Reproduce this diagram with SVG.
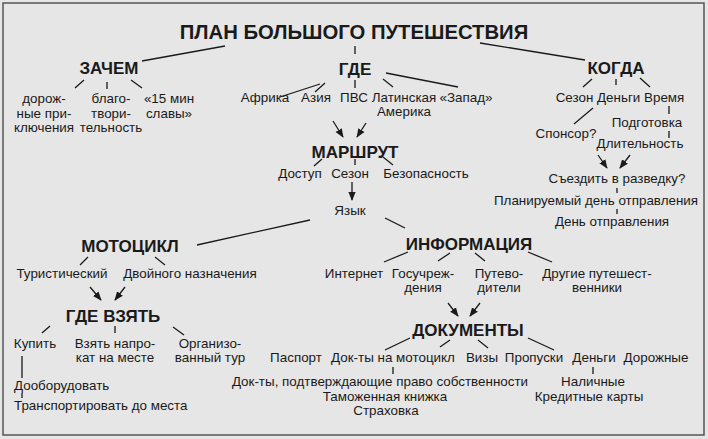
<svg xmlns="http://www.w3.org/2000/svg" width="708" height="439" viewBox="0 0 708 439">
<style>
text{font-family:"Liberation Sans",Arial,sans-serif;fill:#1a1a1a;text-anchor:middle;font-size:13.4px}
.h{font-weight:bold;font-size:17px}
.t{font-weight:bold;font-size:20.3px}
.l line{stroke:#1a1a1a;stroke-width:1.3}
.a line{stroke:#1a1a1a;stroke-width:1.3;marker-end:url(#ar)}
</style>
<defs><marker id="ar" viewBox="0 0 10 10" refX="9" refY="5" markerWidth="7" markerHeight="7" orient="auto"><path d="M0,1 L10,5 L0,9 Z" fill="#1a1a1a"/></marker></defs>
<rect x="0" y="0" width="708" height="439" fill="#e6e6e6"/>
<rect x="3" y="3" width="701" height="432" fill="none" stroke="#555" stroke-width="1.5"/>
<g id="connectors">
<g class="l">
<line x1="225" y1="46" x2="142" y2="61"/><line x1="355" y1="46" x2="355" y2="54"/><line x1="480" y1="43" x2="585" y2="60"/>
<line x1="75" y1="88" x2="84" y2="80"/><line x1="107" y1="82" x2="107" y2="89"/><line x1="131" y1="80" x2="142" y2="88"/>
<line x1="320" y1="84" x2="280" y2="97"/><line x1="325" y1="83" x2="315" y2="92"/><line x1="355" y1="80" x2="355" y2="88"/><line x1="383" y1="79" x2="393" y2="87"/><line x1="386" y1="73" x2="458" y2="87"/>
<line x1="322" y1="159" x2="314" y2="166"/><line x1="355" y1="159" x2="355" y2="165"/><line x1="383" y1="157" x2="393" y2="165"/>
<line x1="310" y1="220" x2="197" y2="245"/><line x1="385" y1="218" x2="405" y2="228"/>
<line x1="592" y1="79" x2="583" y2="87"/><line x1="616" y1="79" x2="616" y2="85"/><line x1="640" y1="78" x2="650" y2="87"/>
<line x1="593" y1="108" x2="574" y2="124"/><line x1="669" y1="106" x2="669" y2="114"/><line x1="669" y1="131" x2="669" y2="138"/>
<line x1="617" y1="188" x2="617" y2="193"/><line x1="617" y1="209" x2="617" y2="214"/>
<line x1="88" y1="257" x2="80" y2="265"/><line x1="155" y1="257" x2="165" y2="265"/>
<line x1="50" y1="326" x2="42" y2="333"/><line x1="115" y1="326" x2="115" y2="333"/><line x1="173" y1="327" x2="184" y2="335"/>
<line x1="22" y1="356" x2="22" y2="378"/><line x1="22" y1="393" x2="22" y2="398"/>
<line x1="408" y1="252" x2="384" y2="262"/><line x1="450" y1="253" x2="438" y2="261"/><line x1="475" y1="253" x2="485" y2="261"/><line x1="528" y1="252" x2="552" y2="262"/>
<line x1="410" y1="338" x2="385" y2="350"/><line x1="450" y1="340" x2="440" y2="347"/><line x1="478" y1="340" x2="488" y2="348"/><line x1="528" y1="338" x2="554" y2="350"/>
<line x1="393" y1="367" x2="393" y2="374"/><line x1="593" y1="367" x2="593" y2="374"/>
</g>
<g class="a">
<line x1="333" y1="121" x2="343" y2="137"/><line x1="366" y1="123" x2="357" y2="137"/>
<line x1="352" y1="182" x2="352" y2="200"/>
<line x1="598" y1="155" x2="607" y2="168"/><line x1="630" y1="155" x2="620" y2="168"/>
<line x1="90" y1="287" x2="101" y2="300"/><line x1="125" y1="287" x2="115" y2="300"/>
<line x1="448" y1="303" x2="458" y2="316"/><line x1="480" y1="303" x2="470" y2="316"/>
</g>
</g>
<g id="title"><text class="t" x="354" y="39">ПЛАН БОЛЬШОГО ПУТЕШЕСТВИЯ</text></g>
<g id="zachem"><text class="h" x="109" y="74">ЗАЧЕМ</text>
<text x="44" y="103">дорож-</text><text x="44" y="118">ные при-</text><text x="44" y="132">ключения</text>
<text x="111" y="103">благо-</text><text x="111" y="118">твори-</text><text x="111" y="132">тельность</text>
<text x="169" y="103">«15 мин</text><text x="169" y="118">славы»</text></g>
<g id="gde"><text class="h" x="355" y="75">ГДЕ</text>
<text x="265" y="102">Африка</text><text x="316" y="102">Азия</text><text x="354" y="102">ПВС</text><text x="404" y="102">Латинская</text><text x="466" y="102">«Запад»</text><text x="404" y="116">Америка</text></g>
<g id="marshrut"><text class="h" x="355" y="158">МАРШРУТ</text>
<text x="300" y="178">Доступ</text><text x="350" y="178">Сезон</text><text x="426" y="178">Безопасность</text>
<text x="350" y="215">Язык</text></g>
<g id="kogda"><text class="h" x="616" y="74">КОГДА</text>
<text x="620" y="102">Сезон Деньги Время</text>
<text x="566" y="138">Спонсор?</text><text x="647" y="127">Подготовка</text><text x="640" y="148">Длительность</text>
<text x="617" y="183">Съездить в разведку?</text><text x="596" y="205">Планируемый день отправления</text><text x="612" y="226">День отправления</text></g>
<g id="moto"><text class="h" x="130" y="252">МОТОЦИКЛ</text>
<text x="62" y="278">Туристический</text><text x="190" y="278">Двойного назначения</text></g>
<g id="gdevzyat"><text class="h" x="113" y="322">ГДЕ ВЗЯТЬ</text>
<text x="35" y="348">Купить</text><text x="115" y="348">Взять напро-</text><text x="115" y="362">кат на месте</text>
<text x="210" y="348">Организо-</text><text x="210" y="362">ванный тур</text>
<text x="14" y="390" style="text-anchor:start">Дооборудовать</text><text x="14" y="410" style="text-anchor:start">Транспортировать до места</text></g>
<g id="info"><text class="h" x="469" y="250">ИНФОРМАЦИЯ</text>
<text x="354" y="278">Интернет</text><text x="423" y="278">Госучреж-</text><text x="423" y="292">дения</text>
<text x="499" y="278">Путево-</text><text x="499" y="292">дители</text>
<text x="597" y="278">Другие путешест-</text><text x="597" y="292">венники</text></g>
<g id="docs"><text class="h" x="468" y="336">ДОКУМЕНТЫ</text>
<text x="296" y="362">Паспорт</text><text x="393" y="362">Док-ты на мотоцикл</text><text x="482" y="362">Визы</text><text x="534" y="362">Пропуски</text><text x="594" y="362">Деньги</text><text x="656" y="362">Дорожные</text>
<text x="380" y="386">Док-ты, подтверждающие право собственности</text><text x="385" y="401">Таможенная книжка</text><text x="386" y="415">Страховка</text>
<text x="593" y="386">Наличные</text><text x="589" y="401">Кредитные карты</text></g>
</svg>
